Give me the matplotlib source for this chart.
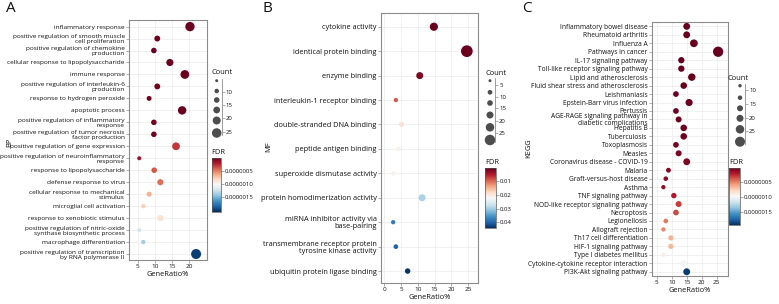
import matplotlib
matplotlib.use("Agg")
import matplotlib.pyplot as plt
import numpy as np
from matplotlib.colors import Normalize
from matplotlib.cm import ScalarMappable

plt.rcParams["font.family"] = ["Open Sans", "DejaVu Sans"]

W, H, DPI = 779, 304, 100

# ---- panel A: GO biological process ----
bp_terms = [
    "inflammatory response",
    "positive regulation of smooth muscle\ncell proliferation",
    "positive regulation of chemokine\nproduction",
    "cellular response to lipopolysaccharide",
    "immune response",
    "positive regulation of interleukin-6\nproduction",
    "response to hydrogen peroxide",
    "apoptotic process",
    "positive regulation of inflammatory\nresponse",
    "positive regulation of tumor necrosis\nfactor production",
    "positive regulation of gene expression",
    "positive regulation of neuroinflammatory\nresponse",
    "response to lipopolysaccharide",
    "defense response to virus",
    "cellular response to mechanical\nstimulus",
    "microglial cell activation",
    "response to xenobiotic stimulus",
    "positive regulation of nitric-oxide\nsynthase biosynthetic process",
    "macrophage differentiation",
    "positive regulation of transcription\nby RNA polymerase II",
]
bp_ratio = [20.3, 10.7, 9.7, 14.4, 18.8, 10.7, 8.3, 18.0, 9.7, 9.7,
            16.2, 5.4, 9.8, 11.6, 8.3, 6.6, 11.6, 5.4, 6.6, 22.1]
bp_count = [23, 12, 11, 16, 21, 12, 9, 20, 11, 11,
            18, 6, 11, 13, 9, 7, 13, 6, 7, 25]
bp_fdr = [1e-8, 2e-8, 2e-8, 1e-8, 1e-8, 3e-8, 4e-8, 1e-8, 4e-8, 4e-8,
          3.0e-7, 1.5e-7, 4.0e-7, 4.6e-7, 6.6e-7, 7.8e-7, 8.8e-7, 1.22e-6, 1.38e-6, 2.0e-6]

# ---- panel B: GO molecular function ----
mf_terms = [
    "cytokine activity",
    "identical protein binding",
    "enzyme binding",
    "interleukin-1 receptor binding",
    "double-stranded DNA binding",
    "peptide antigen binding",
    "superoxide dismutase activity",
    "protein homodimerization activity",
    "miRNA inhibitor activity via\nbase-pairing",
    "transmembrane receptor protein\ntyrosine kinase activity",
    "ubiquitin protein ligase binding",
]
mf_ratio = [14.8, 24.6, 10.6, 3.5, 5.2, 4.3, 2.8, 11.3, 2.7, 3.5, 7.0]
mf_count = [13, 22, 10, 3, 5, 4, 3, 10, 3, 4, 6]
mf_fdr = [0.001, 0.001, 0.002, 0.009, 0.019, 0.0215, 0.0215, 0.0295, 0.038, 0.040, 0.044]

# ---- panel C: KEGG pathways ----
kegg_terms = [
    "Inflammatory bowel disease", "Rheumatoid arthritis", "Influenza A",
    "Pathways in cancer", "IL-17 signaling pathway",
    "Toll-like receptor signaling pathway", "Lipid and atherosclerosis",
    "Fluid shear stress and atherosclerosis", "Leishmaniasis",
    "Epstein-Barr virus infection", "Pertussis",
    "AGE-RAGE signaling pathway in\ndiabetic complications",
    "Hepatitis B", "Tuberculosis", "Toxoplasmosis", "Measles",
    "Coronavirus disease - COVID-19", "Malaria", "Graft-versus-host disease",
    "Asthma", "TNF signaling pathway", "NOD-like receptor signaling pathway",
    "Necroptosis", "Legionellosis", "Allograft rejection",
    "Th17 cell differentiation", "HIF-1 signaling pathway",
    "Type I diabetes mellitus", "Cytokine-cytokine receptor interaction",
    "PI3K-Akt signaling pathway",
]
kegg_ratio = [15.0, 15.0, 17.4, 25.5, 13.2, 13.2, 16.7, 14.0, 11.4, 15.8,
              11.4, 12.3, 14.0, 14.0, 11.4, 12.3, 15.0, 8.9, 8.0, 7.2,
              10.7, 12.3, 11.4, 8.0, 7.2, 9.7, 9.7, 7.2, 14.0, 15.0]
kegg_count = [17, 17, 20, 29, 15, 15, 19, 16, 13, 18,
              13, 14, 16, 16, 13, 14, 17, 10, 9, 8,
              12, 14, 13, 9, 8, 11, 11, 8, 16, 17]
kegg_fdr = [1e-9, 1e-9, 1e-9, 1e-9, 2e-9, 2e-9, 3e-9, 5e-9, 1e-8, 1e-8,
            2e-8, 2e-8, 2e-8, 3e-8, 4e-8, 5e-8, 6e-8, 8e-8, 1e-7, 1.2e-7,
            2.0e-7, 3.0e-7, 3.3e-7, 4.6e-7, 5.0e-7, 6.3e-7, 6.5e-7, 9.0e-7, 1.0e-6, 1.9e-6]

small_fdr_ticks = [5e-7, 1e-6, 1.5e-6]
small_fdr_labels = ["0.0000005", "0.0000010", "0.0000015"]
mf_fdr_ticks = [0.01, 0.02, 0.03, 0.04]
mf_fdr_labels = ["0.01", "0.02", "0.03", "0.04"]

GRID = "#ebebeb"
SPINE = "#8c8c8c"
TXT = "#111111"


def box(x0, y0, x1, y1):
    return [x0 / W, 1 - y1 / H, (x1 - x0) / W, (y1 - y0) / H]


def px_s(d):
    return (np.asarray(d, dtype=float) * 72.0 / DPI) ** 2


def dot_panel(fig, rect, terms, ratio, count, fdr, norm, xlim, xticks, size_map, fs):
    ax = fig.add_axes(rect)
    n = len(terms)
    y = np.arange(n)
    c0, c1, d0, d1 = size_map
    diam = d0 + (np.asarray(count) - c0) * (d1 - d0) / (c1 - c0)
    ax.scatter(ratio, y, s=px_s(diam), c=fdr, cmap="RdBu", norm=norm,
               linewidths=0, zorder=3)
    ax.set_xlim(*xlim)
    ax.set_ylim(n - 0.5, -0.55)
    ax.set_yticks(y)
    ax.set_yticklabels(terms, fontsize=fs, color=TXT, linespacing=1.0)
    ax.set_xticks(xticks)
    ax.tick_params(axis="x", labelsize=4.6, length=2, width=0.5, pad=1, colors=SPINE, labelcolor=TXT)
    ax.tick_params(axis="y", length=2, width=0.5, pad=1, colors=SPINE, labelcolor=TXT)
    ax.grid(True, color=GRID, linewidth=0.5, zorder=0)
    ax.set_axisbelow(True)
    for sp in ax.spines.values():
        sp.set_color(SPINE)
        sp.set_linewidth(0.8)
    ax.set_xlabel("GeneRatio%", fontsize=5.4, color=TXT, labelpad=1)
    return ax


def count_legend(fig, x_dot, x_line, y_top, y_bot, dot_y, dot_d, tick_y, tick_lab, title_xy):
    lax = fig.add_axes(box(x_dot - 7, y_top, x_line, y_bot))
    lax.set_xlim(x_dot - 7, x_line)
    lax.set_ylim(y_bot, y_top)
    lax.scatter(np.full(len(dot_y), x_dot), dot_y, s=px_s(dot_d), color="#4d4d4d",
                linewidths=0, clip_on=False)
    for side in ["top", "bottom", "left"]:
        lax.spines[side].set_visible(False)
    lax.spines["right"].set_color(SPINE)
    lax.spines["right"].set_linewidth(0.6)
    lax.patch.set_alpha(0)
    lax.set_xticks([])
    lax.yaxis.tick_right()
    lax.set_yticks(tick_y)
    lax.set_yticklabels(tick_lab)
    lax.tick_params(axis="y", labelsize=4.3, length=2, width=0.5, pad=1, colors=SPINE, labelcolor=TXT)
    fig.text(title_xy[0] / W, 1 - title_xy[1] / H, "Count", fontsize=5.4, color=TXT,
             ha="left", va="center")


def fdr_bar(fig, rect, norm, ticks, labels, title_xy):
    cax = fig.add_axes(box(*rect))
    cb = fig.colorbar(ScalarMappable(norm=norm, cmap="RdBu"), cax=cax)
    cax.invert_yaxis()
    cb.set_ticks(ticks)
    cb.set_ticklabels(labels)
    cb.outline.set_linewidth(0.5)
    cb.outline.set_edgecolor("#555555")
    cax.tick_params(labelsize=4.3, length=2, width=0.5, pad=1, colors=SPINE, labelcolor=TXT)
    fig.text(title_xy[0] / W, 1 - title_xy[1] / H, "FDR", fontsize=5.4, color=TXT,
             ha="left", va="center")


fig = plt.figure(figsize=(W / DPI, H / DPI), dpi=DPI)

# A
norm_a = Normalize(0.0, 2.05e-6)
dot_panel(fig, box(129, 20, 207, 260), bp_terms, bp_ratio, bp_count, bp_fdr, norm_a,
          (2.4, 25.3), [5, 10, 15, 20], (6, 25, 4.0, 10.0), 4.65)
count_legend(fig, 216.7, 221.7, 79, 135,
             [80.7, 91, 100, 110, 120.5, 133], [3.0, 4.5, 5.6, 6.8, 8.0, 9.5],
             [91.7, 105, 118.3, 131.7], ["10", "15", "20", "25"], (211, 72.3))
fdr_bar(fig, (211.7, 157.7, 221, 211.7), norm_a, small_fdr_ticks, small_fdr_labels, (211, 152))

# B
norm_b = Normalize(0.0008, 0.0443)
dot_panel(fig, box(380.7, 13.3, 478.3, 283.3), mf_terms, mf_ratio, mf_count, mf_fdr, norm_b,
          (-1.0, 28.0), [0, 5, 10, 15, 20, 25], (3, 22, 4.3, 11.7), 5.3)
count_legend(fig, 490, 495, 78, 142,
             [80.7, 92.3, 103, 115, 127.3, 140], [3.0, 4.7, 5.6, 7.0, 8.5, 10.5],
             [85, 97.3, 108.3, 121, 132.7], ["5", "10", "15", "20", "25"], (485, 73.3))
fdr_bar(fig, (485, 168.3, 496, 228.3), norm_b, mf_fdr_ticks, mf_fdr_labels, (485, 162))

# C
norm_c = Normalize(0.0, 1.94e-6)
dot_panel(fig, box(651.7, 21.7, 728.3, 276), kegg_terms, kegg_ratio, kegg_count, kegg_fdr, norm_c,
          (3.3, 28.9), [5, 10, 15, 20, 25], (8, 29, 4.3, 10.3), 4.8)
count_legend(fig, 740, 745, 84, 144,
             [85.7, 97.7, 108.3, 118.3, 129.3, 141.7], [3.5, 4.5, 6.0, 7.0, 8.5, 10.0],
             [90, 104.3, 117.7, 131], ["10", "15", "20", "25"], (727, 78.3))
fdr_bar(fig, (729, 167.7, 740, 225), norm_c, small_fdr_ticks, small_fdr_labels, (729, 162))

# panel letters and y titles
for letter, x in [("A", 6), ("B", 263), ("C", 522)]:
    fig.text(x / W, 1 - 9 / H, letter, fontsize=11, color=TXT, ha="left", va="center")
for title, x, y in [("BP", 9.5, 142), ("MF", 269, 147), ("KEGG", 529, 148)]:
    fig.text(x / W, 1 - y / H, title, fontsize=5.4, color=TXT, rotation=90,
             ha="center", va="center")

fig.savefig("out.png", dpi=DPI)
